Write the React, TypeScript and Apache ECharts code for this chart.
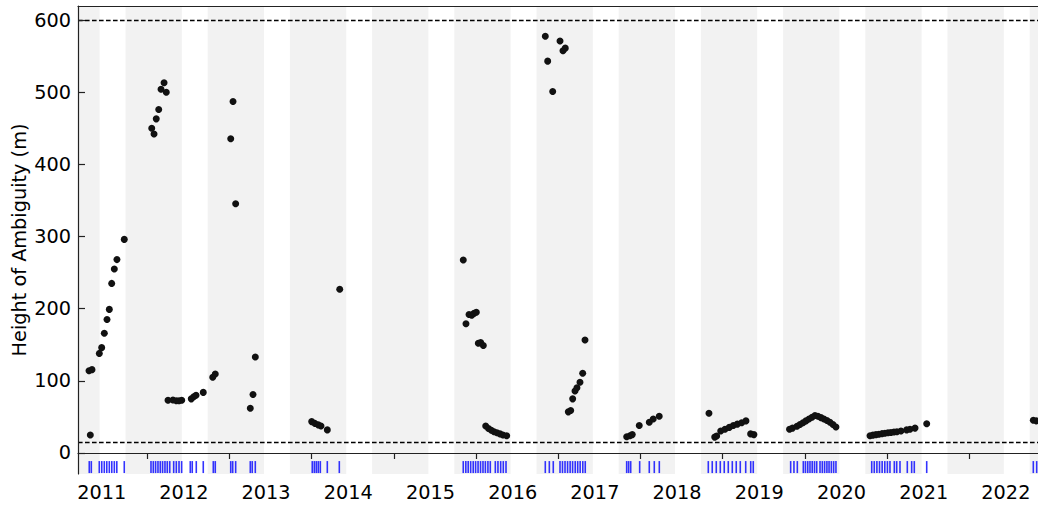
import { useEffect, useRef } from "react";
import * as echarts from "echarts";

// Axis extents (decimal years / metres)
const X_MIN = 2011.157;
const X_MAX = 2022.836;
const Y_MIN = -29.1;
const Y_MAX = 619.4;

// Height of ambiguity of each interferometric pair: [decimal year, metres]
const season2011: [number, number][] = [
  [2011.291, 114], [2011.307, 25], [2011.327, 115.5], [2011.416, 138], [2011.445, 146],
  [2011.477, 166], [2011.51, 185], [2011.538, 199], [2011.567, 235], [2011.599, 255],
  [2011.631, 268], [2011.72, 296],
];
const season2012: [number, number][] = [
  [2012.054, 450], [2012.082, 442], [2012.109, 463], [2012.139, 476], [2012.167, 504],
  [2012.204, 513], [2012.231, 500], [2012.252, 73], [2012.312, 73.5], [2012.353, 72.5],
  [2012.386, 72.5], [2012.419, 73], [2012.535, 75], [2012.565, 78], [2012.593, 80],
  [2012.681, 84], [2012.796, 105], [2012.827, 109.5],
];
const season2013: [number, number][] = [
  [2013.015, 435.5], [2013.043, 487], [2013.075, 345.5], [2013.253, 62], [2013.286, 81],
  [2013.314, 133],
];
const season2014: [number, number][] = [
  [2014.0, 43.5], [2014.04, 41], [2014.08, 39], [2014.113, 37.5], [2014.19, 32], [2014.341, 227],
];
const season2016: [number, number][] = [
  [2015.844, 267.5], [2015.877, 179], [2015.914, 192], [2015.947, 191], [2015.975, 193.5],
  [2016.003, 195], [2016.027, 152], [2016.056, 153], [2016.088, 149], [2016.117, 37.5],
  [2016.151, 34], [2016.185, 31.5], [2016.218, 29.5], [2016.254, 28], [2016.291, 26.5],
  [2016.327, 25], [2016.372, 24],
];
const season2017: [number, number][] = [
  [2016.842, 577.5], [2016.871, 543], [2016.932, 501], [2017.021, 571], [2017.057, 557.5],
  [2017.085, 561], [2017.122, 57], [2017.151, 59], [2017.175, 75], [2017.203, 86],
  [2017.227, 90.5], [2017.264, 98], [2017.297, 110.5], [2017.325, 156.5],
];
const season2018: [number, number][] = [
  [2017.832, 22.5], [2017.872, 24], [2017.9, 25.5], [2017.985, 38], [2018.107, 42.5],
  [2018.155, 47], [2018.228, 51],
];
const season2019: [number, number][] = [
  [2018.833, 55], [2018.903, 22], [2018.927, 23.5], [2018.976, 30.5], [2019.028, 33],
  [2019.08, 35.5], [2019.129, 38], [2019.178, 40], [2019.231, 42], [2019.283, 44.5],
  [2019.34, 26.5], [2019.38, 25.5],
];
const season2020: [number, number][] = [
  [2019.813, 33], [2019.849, 34.5], [2019.904, 37], [2019.94, 39.5], [2019.977, 42],
  [2020.013, 44.5], [2020.05, 47], [2020.087, 49.5], [2020.123, 52], [2020.159, 51],
  [2020.196, 49], [2020.232, 47], [2020.269, 45], [2020.305, 42.5], [2020.342, 39.5],
  [2020.378, 36],
];
const season2021: [number, number][] = [
  [2020.792, 24], [2020.828, 24.8], [2020.865, 25.5], [2020.901, 26], [2020.938, 26.8],
  [2020.974, 27.3], [2021.011, 28], [2021.047, 28.5], [2021.084, 29], [2021.12, 29.5],
  [2021.169, 30.5], [2021.238, 32], [2021.279, 33], [2021.34, 34.5], [2021.482, 40.5],
];
const season2022: [number, number][] = [
  [2022.779, 45.5], [2022.818, 44.5],
];

// Acquisition dates (decimal years), drawn as a rug along the bottom
const acquisitions: number[] = [
  2011.294, 2011.319, 2011.416, 2011.446, 2011.477, 2011.507, 2011.538, 2011.568, 2011.599,
  2011.629, 2011.72,
  2012.045, 2012.073, 2012.101, 2012.13, 2012.158, 2012.186, 2012.215, 2012.243, 2012.273,
  2012.321, 2012.353, 2012.386, 2012.418, 2012.523, 2012.547, 2012.596, 2012.681, 2012.803,
  2012.827,
  2013.015, 2013.039, 2013.075, 2013.253, 2013.277, 2013.314,
  2014.007, 2014.032, 2014.056, 2014.08, 2014.105, 2014.19, 2014.336,
  2015.844, 2015.875, 2015.904, 2015.934, 2015.965, 2015.994,
  2016.024, 2016.054, 2016.084, 2016.113, 2016.144, 2016.173, 2016.234, 2016.266, 2016.299,
  2016.331, 2016.364, 2016.842, 2016.891, 2016.939,
  2017.021, 2017.051, 2017.082, 2017.113, 2017.144, 2017.174, 2017.206, 2017.236, 2017.266,
  2017.298, 2017.328, 2017.832, 2017.856, 2017.881, 2017.99,
  2018.107, 2018.168, 2018.229, 2018.825, 2018.873, 2018.922, 2018.971,
  2019.019, 2019.068, 2019.117, 2019.165, 2019.214, 2019.28, 2019.341, 2019.372, 2019.827,
  2019.867, 2019.908, 2019.981,
  2020.007, 2020.035, 2020.062, 2020.089, 2020.117, 2020.144, 2020.184, 2020.212, 2020.24,
  2020.268, 2020.294, 2020.322, 2020.35, 2020.378, 2020.813, 2020.844, 2020.876, 2020.908,
  2020.94, 2020.972,
  2021.004, 2021.035, 2021.088, 2021.117, 2021.157, 2021.246, 2021.299, 2021.331, 2021.482,
  2022.779, 2022.82,
];
const RUG_LEVEL = -19.5;

// Winter periods shaded in grey: [start, end] in decimal years
const winters: [number, number][] = [
  [2010.735, 2011.42], [2011.735, 2012.42], [2012.735, 2013.42], [2013.735, 2014.42],
  [2014.735, 2015.42], [2015.735, 2016.42], [2016.735, 2017.42], [2017.735, 2018.42],
  [2018.735, 2019.42], [2019.735, 2020.42], [2020.735, 2021.42], [2021.735, 2022.42],
  [2022.735, 2023.42],
];

// Axis ticks and labels
const yearTicks = [2012, 2013, 2014, 2015, 2016, 2017, 2018, 2019, 2020, 2021, 2022];
const yearLabels = [2011, 2012, 2013, 2014, 2015, 2016, 2017, 2018, 2019, 2020, 2021, 2022];
const YEAR_LABEL_OFFSET = 0.445;
const heightTicks = [0, 100, 200, 300, 400, 500, 600];

// Dashed reference levels (m)
const limits = [600, 15];

const FONT = "DejaVu Sans";
const FONT_SIZE = 19.3;

export default function App() {
  const ref = useRef<HTMLDivElement>(null);

  useEffect(() => {
    if (!ref.current) return;
    const chart = echarts.init(ref.current, undefined, { renderer: "svg" });

    const points = [
      ...season2011, ...season2012, ...season2013, ...season2014, ...season2016,
      ...season2017, ...season2018, ...season2019, ...season2020, ...season2021,
      ...season2022,
    ];

    const bandData = winters.map(([a, b]) => [
      { xAxis: Math.max(a, X_MIN) },
      { xAxis: Math.min(b, X_MAX) },
    ]);

    const axisLine = { lineStyle: { color: "#222", width: 1.2 } };

    chart.setOption({
      animation: false,
      grid: {
        left: 78,
        right: 0,
        top: 6,
        bottom: 32,
        containLabel: false,
        outerBoundsMode: "none",
      },
      xAxis: [
        {
          type: "value",
          min: X_MIN,
          max: X_MAX,
          z: 10,
          axisLine: { show: true, ...axisLine },
          axisTick: {
            show: true,
            customValues: yearTicks,
            length: 6,
            inside: false,
            lineStyle: { color: "#222", width: 1.2 },
          },
          axisLabel: {
            customValues: yearLabels.map((y) => y + YEAR_LABEL_OFFSET),
            formatter: (v: number) => String(Math.floor(v + 1e-6)),
            color: "#000",
            fontFamily: FONT,
            fontSize: FONT_SIZE,
            margin: 9,
          },
          splitLine: { show: false },
        },
        {
          type: "value",
          position: "top",
          min: X_MIN,
          max: X_MAX,
          z: 10,
          axisLine: { show: true, onZero: false, ...axisLine },
          axisTick: { show: false },
          axisLabel: { show: false },
          splitLine: { show: false },
        },
      ],
      yAxis: {
        type: "value",
        min: Y_MIN,
        max: Y_MAX,
        z: 10,
        name: "Height of Ambiguity (m)",
        nameLocation: "middle",
        nameGap: 49,
        nameMoveOverlap: false,
        nameTextStyle: { color: "#000", fontFamily: FONT, fontSize: FONT_SIZE },
        axisLine: { show: true, onZero: false, ...axisLine },
        axisTick: {
          show: true,
          customValues: heightTicks,
          length: 7,
          inside: true,
          lineStyle: { color: "#222", width: 1.2 },
        },
        axisLabel: {
          customValues: heightTicks,
          color: "#000",
          fontFamily: FONT,
          fontSize: FONT_SIZE,
          margin: 7,
        },
        splitLine: { show: false },
      },
      series: [
        {
          name: "winter",
          type: "scatter",
          data: [],
          z: 1,
          silent: true,
          markArea: {
            silent: true,
            itemStyle: { color: "#f2f2f2" },
            data: bandData,
          },
        },
        {
          name: "acquisitions",
          type: "scatter",
          z: 3,
          symbol: "rect",
          symbolSize: [1.6, 12],
          itemStyle: { color: "#0000ff" },
          data: acquisitions.map((t) => [t, RUG_LEVEL]),
        },
        {
          name: "limits",
          type: "scatter",
          data: [],
          z: 4,
          markLine: {
            silent: true,
            symbol: "none",
            label: { show: false },
            lineStyle: { color: "#000", width: 1.3, type: [4.6, 2.4] },
            data: limits.map((v) => ({ yAxis: v })),
          },
        },
        {
          name: "height of ambiguity",
          type: "scatter",
          z: 5,
          symbolSize: 7,
          itemStyle: { color: "#111", opacity: 1 },
          data: points,
        },
      ],
    });

    return () => chart.dispose();
  }, []);

  return (
    <div
      ref={ref}
      style={{ position: "fixed", left: 0, top: 0, width: 1038, height: 506, background: "#fff" }}
    />
  );
}
